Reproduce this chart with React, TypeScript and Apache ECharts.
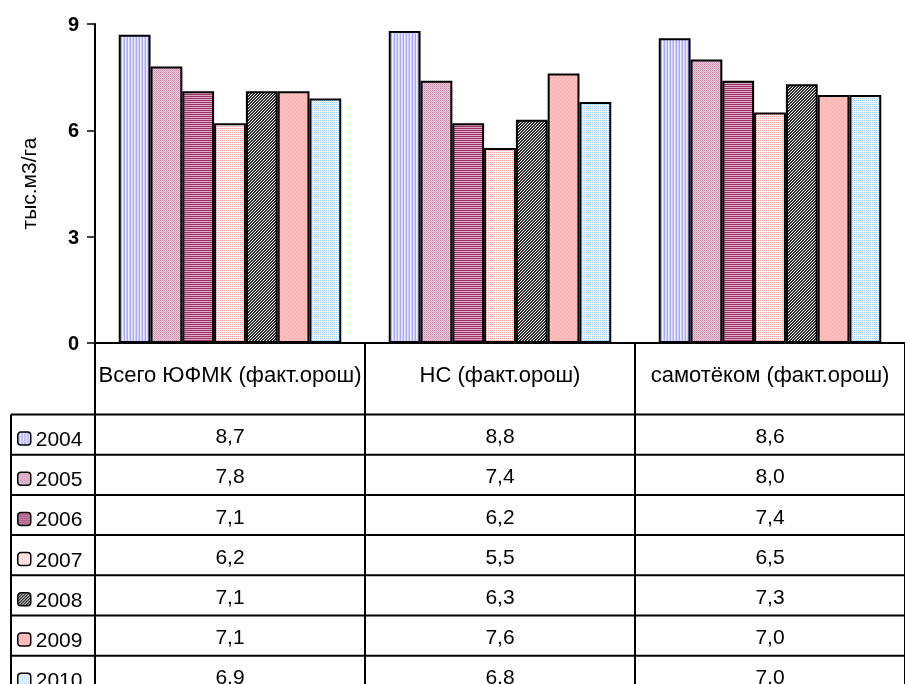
import React, { useEffect, useRef } from 'react';
import * as echarts from 'echarts';

const categories = ['Всего ЮФМК (факт.орош)', 'НС (факт.орош)', 'самотёком (факт.орош)'];
const years = ['2004', '2005', '2006', '2007', '2008', '2009', '2010'];
const v2004 = [8.7, 8.8, 8.6];
const v2005 = [7.8, 7.4, 8.0];
const v2006 = [7.1, 6.2, 7.4];
const v2007 = [6.2, 5.5, 6.5];
const v2008 = [7.1, 6.3, 7.3];
const v2009 = [7.1, 7.6, 7.0];
const v2010 = [6.9, 6.8, 7.0];
const seriesValues = [v2004, v2005, v2006, v2007, v2008, v2009, v2010];
const yMin = 0;
const yMax = 9;
const yStep = 3;
const axisTitle = 'тыс.м3/га';

const FONT = '"Liberation Sans", Arial, sans-serif';

type PixFn = (x: number, y: number) => string;
function makePattern(w: number, h: number, pix: PixFn) {
  const c = document.createElement('canvas');
  c.width = w;
  c.height = h;
  const ctx = c.getContext('2d')!;
  for (let y = 0; y < h; y++) {
    for (let x = 0; x < w; x++) {
      ctx.fillStyle = pix(x, y);
      ctx.fillRect(x, y, 1, 1);
    }
  }
  return { image: c, repeat: 'repeat', imageWidth: w, imageHeight: h } as any;
}

function buildPatterns() {
  return [
    makePattern(3, 1, (x) => ['#d0d0ff', '#a8a8ff', '#eeeeff'][x]),
    makePattern(2, 2, (x, y) => (x === 0 && y === 0 ? '#c48aa8' : x === 1 && y === 1 ? '#d9a6c0' : '#ecc8da')),
    makePattern(1, 2, (_x, y) => (y === 0 ? '#993366' : '#dcaac3')),
    makePattern(2, 2, (x, y) => (x === 0 && y === 0 ? '#ffa0a0' : x === 1 && y === 1 ? '#ffeeee' : '#ffffff')),
    makePattern(3, 3, (x, y) => ((x + y) % 3 === 0 ? '#ffffff' : '#2a2a2a')),
    makePattern(4, 4, (x, y) => ((x + y) % 4 === 0 ? '#ffa8a8' : '#ffc0c0')),
    makePattern(2, 2, (x, y) => (x === 0 && y === 0 ? '#99ccff' : x === 1 && y === 1 ? '#d6ebff' : '#ffffff')),
  ];
}

const GRID_LEFT = 95;
const GRID_TOP = 24;
const GRID_WIDTH = 818;
const GRID_HEIGHT = 319;
const TABLE_TOP = 414.5;
const ROW_H = 40.2;
const TABLE_LEFT = 11;

export default function App() {
  const ref = useRef<HTMLDivElement>(null);
  useEffect(() => {
    if (!ref.current) return;
    const chart = echarts.init(ref.current, null, { renderer: 'svg' });
    const patterns = buildPatterns();
    const series = years.map((y, j) => ({
      name: y,
      type: 'bar',
      data: seriesValues[j],
      barGap: '0%',
      barCategoryGap: '17.6%',
      itemStyle: { color: patterns[j], borderColor: '#000', borderWidth: 2 },
      emphasis: { disabled: true },
    }));
    chart.setOption({
      animation: false,
      grid: { left: GRID_LEFT, top: GRID_TOP, width: GRID_WIDTH, height: GRID_HEIGHT, containLabel: false },
      legend: {
        orient: 'vertical',
        left: 17,
        top: 428,
        padding: 0,
        height: 320,
        itemWidth: 13,
        itemHeight: 13,
        itemGap: 19.2,
        itemStyle: { borderColor: '#000', borderWidth: 1.5 },
        textStyle: { fontSize: 21, color: '#000', fontFamily: FONT },
        data: years,
      },
      xAxis: {
        type: 'category',
        data: categories,
        axisLine: { lineStyle: { color: '#000', width: 2 } },
        axisTick: { show: true, inside: false, length: 345, lineStyle: { color: '#000', width: 2 } },
        axisLabel: { interval: 0, margin: 20, fontSize: 22, color: '#000', fontFamily: FONT },
      },
      yAxis: {
        type: 'value',
        min: yMin,
        max: yMax,
        interval: yStep,
        name: axisTitle,
        nameLocation: 'middle',
        nameGap: 56,
        nameRotate: 90,
        nameTextStyle: { fontSize: 21, color: '#000', fontFamily: FONT },
        axisLine: { show: true, lineStyle: { color: '#000', width: 2 } },
        axisTick: { show: true, length: 8, lineStyle: { color: '#000', width: 1.5 } },
        splitLine: { show: false },
        axisLabel: { margin: 16, fontSize: 20, fontWeight: 'bold', color: '#000', fontFamily: FONT },
      },
      series,
    });

    const graphics: any[] = [];
    for (let k = 0; k <= years.length; k++) {
      const y = TABLE_TOP + k * ROW_H;
      graphics.push({
        type: 'line',
        shape: { x1: TABLE_LEFT, y1: y, x2: 920, y2: y },
        style: { stroke: '#000', lineWidth: 2 },
        silent: true,
      });
    }
    graphics.push({
      type: 'line',
      shape: { x1: TABLE_LEFT, y1: TABLE_TOP, x2: TABLE_LEFT, y2: 700 },
      style: { stroke: '#000', lineWidth: 2 },
      silent: true,
    });
    years.forEach((_y, j) => {
      const cy = TABLE_TOP + (j + 0.5) * ROW_H + 1;
      categories.forEach((c, i) => {
        const cx = chart.convertToPixel({ xAxisIndex: 0 }, c) as number;
        graphics.push({
          type: 'text',
          x: cx,
          y: cy,
          silent: true,
          style: {
            text: seriesValues[j][i].toFixed(1).replace('.', ','),
            fill: '#000',
            fontSize: 21,
            fontFamily: FONT,
            align: 'center',
            verticalAlign: 'middle',
          },
        });
      });
    });
    chart.setOption({ graphic: graphics });
    return () => chart.dispose();
  }, []);
  return <div ref={ref} style={{ position: 'fixed', left: 0, top: 0, width: 905, height: 684 }} />;
}
